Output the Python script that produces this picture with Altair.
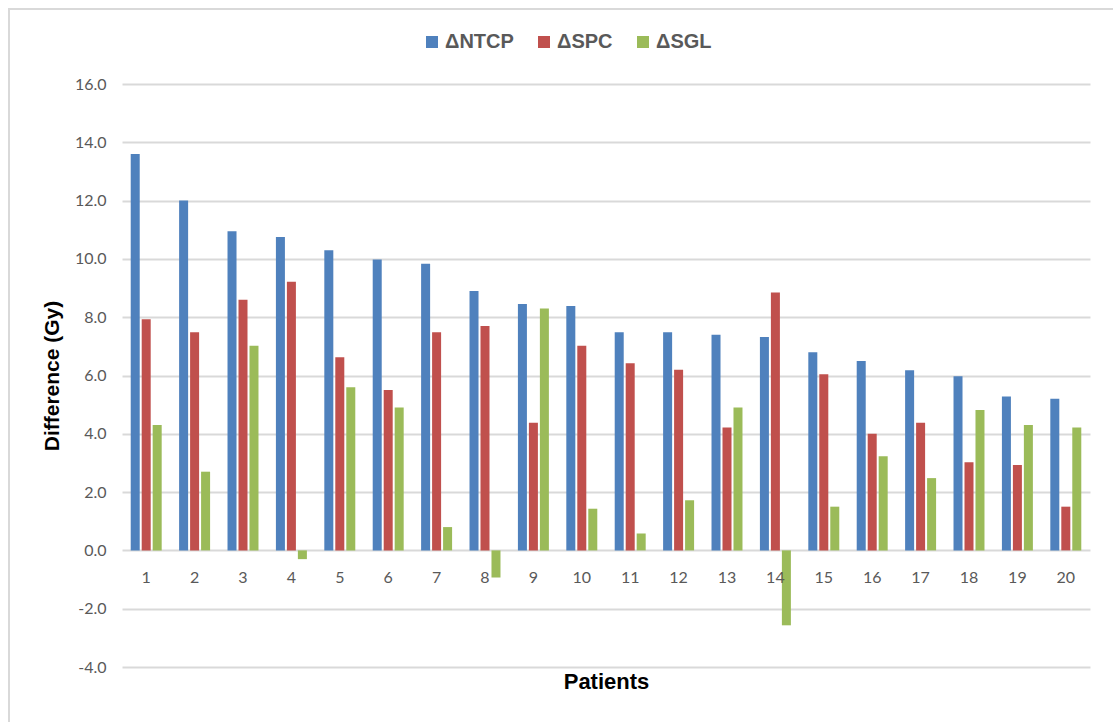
import altair as alt
import pandas as pd

patients = [str(i) for i in range(1, 21)]
series = ["ΔNTCP", "ΔSPC", "ΔSGL"]
colors = ["#4F81BD", "#C0504D", "#9BBB59"]

ntcp = [13.6, 12.0, 10.95, 10.75, 10.3, 9.98, 9.83, 8.9, 8.45, 8.38,
        7.48, 7.48, 7.4, 7.32, 6.8, 6.5, 6.18, 5.97, 5.28, 5.2]
spc = [7.93, 7.48, 8.6, 9.22, 6.63, 5.5, 7.48, 7.7, 4.38, 7.02,
       6.42, 6.2, 4.22, 8.85, 6.04, 4.0, 4.38, 3.02, 2.93, 1.5]
sgl = [4.3, 2.7, 7.02, -0.3, 5.6, 4.9, 0.8, -0.93, 8.3, 1.43,
       0.58, 1.72, 4.9, -2.57, 1.5, 3.23, 2.48, 4.82, 4.3, 4.22]

y_ticks = [-4, -2, 0, 2, 4, 6, 8, 10, 12, 14, 16]

rows = []
for i, p in enumerate(patients):
    for s, vals in zip(series, [ntcp, spc, sgl]):
        rows.append({"Patient": p, "Series": s, "Value": vals[i]})
df = pd.DataFrame(rows)
lab_df = pd.DataFrame({"Patient": patients})

W, H = 968, 583

x_scale = alt.Scale(domain=patients, paddingInner=0.36, paddingOuter=0.18)
y_scale = alt.Scale(domain=[-4, 16], nice=False, zero=False)

bars = alt.Chart(df).mark_bar().encode(
    x=alt.X("Patient:N", scale=x_scale,
            axis=alt.Axis(title="Patients", labels=False, ticks=False, domain=False, grid=False,
                          titleFont="Liberation Sans", titleFontSize=22,
                          titleFontWeight="bold", titleColor="#000000",
                          titlePadding=4)),
    xOffset=alt.XOffset("Series:N", scale=alt.Scale(domain=series, paddingInner=0.18, paddingOuter=0)),
    y=alt.Y("Value:Q", scale=y_scale,
            axis=alt.Axis(title="Difference (Gy)", values=y_ticks,
                          labelExpr="replace(format(datum.value, '.1f'), '\u2212', '-')",
                          domain=False, ticks=False, labelPadding=16,
                          labelFont="Lato", labelFontSize=16, labelColor="#595959",
                          gridColor="#d9d9d9", gridWidth=1.8,
                          titleFont="Liberation Sans", titleFontSize=21,
                          titleFontWeight="bold", titleColor="#000000",
                          titlePadding=12)),
    color=alt.Color("Series:N", scale=alt.Scale(domain=series, range=colors),
                    legend=alt.Legend(title=None, orient="none", legendX=300, legendY=-52,
                                      direction="horizontal", symbolType="square",
                                      symbolSize=144, symbolStrokeWidth=0,
                                      labelFont="Liberation Sans", labelFontSize=20,
                                      labelFontWeight="bold", labelColor="#595959",
                                      labelOffset=3, columnPadding=20)),
)

labels = alt.Chart(lab_df).mark_text(
    font="Lato", fontSize=16, color="#595959", baseline="middle", dy=28
).encode(
    x=alt.X("Patient:N", scale=x_scale),
    y=alt.Y(datum=0, scale=y_scale),
    text="Patient:N",
)

frame = alt.Chart(lab_df.head(1)).mark_rect(
    fill=None, stroke="#d9d9d9", strokeWidth=2
).encode(
    x=alt.value(-113), x2=alt.value(W + 30),
    y=alt.value(-75), y2=alt.value(H + 80),
)

chart = alt.layer(frame, bars, labels).properties(
    width=W, height=H,
    autosize=alt.AutoSizeParams(type="none"),
    padding={"left": 122, "top": 84, "right": 23, "bottom": 55},
).configure(background="white").configure_view(stroke=None)

chart.save("out.html", embed_options={"renderer": "svg", "actions": False})
